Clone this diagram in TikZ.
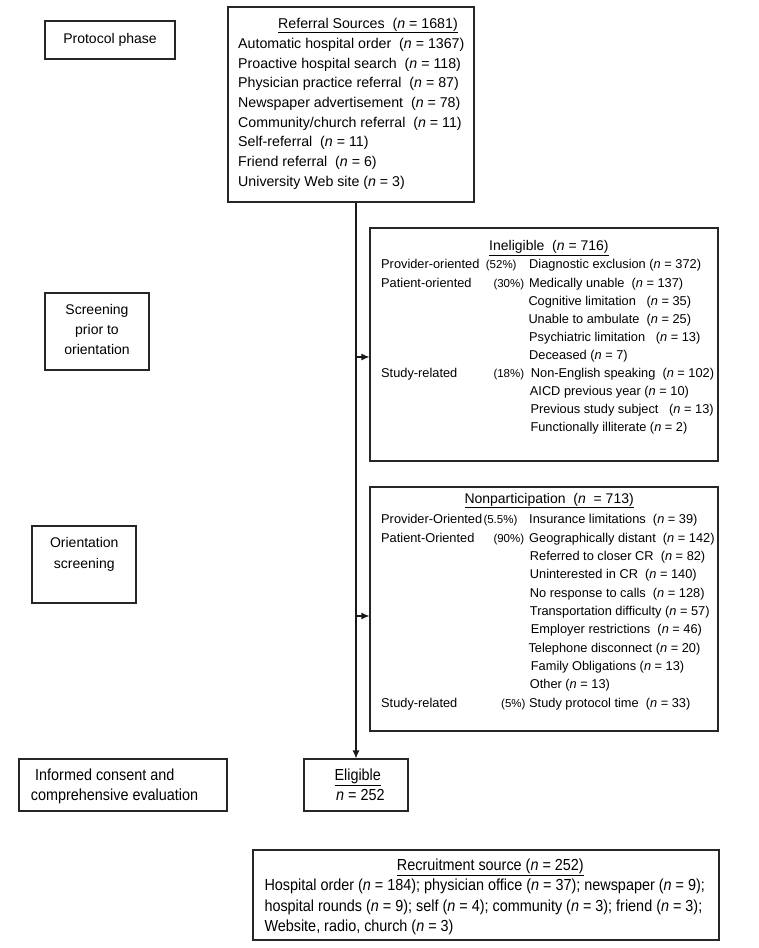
\documentclass[tikz,border=0pt]{standalone}
\usepackage{fontspec}
\setmainfont{Liberation Sans}
\newfontfamily\cond[FakeStretch=0.9]{Liberation Sans}
\usetikzlibrary{arrows.meta}
\newcommand{\nn}{\textit{n}}
\begin{document}
\begin{tikzpicture}[x=1pt,y=-1pt,
  box/.style={draw=black!85, line width=1.1pt, inner sep=0pt},
  reft/.style={font=\fontsize{14.2}{17}\selectfont, anchor=base west, inner sep=0pt},
  sm/.style={font=\fontsize{12.8}{15}\selectfont, anchor=base west, inner sep=0pt},
  ttl/.style={font=\fontsize{14}{17}\selectfont, anchor=base west, inner sep=0pt},
  pc/.style={font=\fontsize{11.5}{14}\selectfont, anchor=base west, inner sep=0pt},
  cd/.style={font=\cond\fontsize{16}{19}\selectfont, anchor=base west, inner sep=0pt},
  ph/.style={font=\fontsize{14}{17}\selectfont, anchor=base, inner sep=0pt},
  arr/.style={-{Latex[length=8pt,width=7pt]}, draw=black!90, line width=1.1pt}]
\useasboundingbox (0,0) rectangle (758,948);

% boxes
\node[box, minimum width=130pt, minimum height=38pt] (proto) at (110,40) {};
\node[box, minimum width=246pt, minimum height=195pt] (refbox) at (351,104.5) {};
\node[box, minimum width=348pt, minimum height=233pt] (inel) at (544,344.5) {};
\node[box, minimum width=104pt, minimum height=77pt] (scr) at (97,331.5) {};
\node[box, minimum width=348pt, minimum height=244pt] (nonp) at (544,609) {};
\node[box, minimum width=104pt, minimum height=77pt] (ori) at (84,564.5) {};
\node[box, minimum width=208pt, minimum height=52pt] (inf) at (123,785) {};
\node[box, minimum width=104pt, minimum height=52pt] (elig) at (356,785) {};
\node[box, minimum width=466pt, minimum height=90pt] (recr) at (486,895) {};

% connectors
\draw[arr] (refbox.south -| elig.north) -- (elig.north);
\coordinate (b1) at (356,357);
\coordinate (b2) at (356,616);
\draw[arr] (b1) -- (b1 -| inel.west);
\draw[arr] (b2) -- (b2 -| nonp.west);

% phase labels
\node[ph] (protot) at (110,43) {Protocol phase};
\node[ph] (scr1) at (97,314.3) {Screening};
\node[ph] (scr2) at (97,334.5) {prior to};
\node[ph] (scr3) at (97,354.5) {orientation};
\node[ph] (ori1) at (84.3,547.3) {Orientation};
\node[ph] (ori2) at (84.3,568.3) {screening};
\node[cd] (inf1) at (35,780.8) {Informed consent and};
\node[cd] (inf2) at (30.7,800.8) {comprehensive evaluation};

% referral sources
\node[reft] (rt) at (278,28) {\underline{Referral Sources\ \ (\nn{} = 1681)}};
\node[reft] (r1) at (238,48.4) {Automatic hospital order\ \ (\nn{} = 1367)};
\node[reft] (r2) at (238,68.1) {Proactive hospital search\ \ (\nn{} = 118)};
\node[reft] (r3) at (238,87.8) {Physician practice referral\ \ (\nn{} = 87)};
\node[reft] (r4) at (238,107.5) {Newspaper advertisement\ \ (\nn{} = 78)};
\node[reft] (r5) at (238,127.2) {Community/church referral\ \ (\nn{} = 11)};
\node[reft] (r6) at (238,146.9) {Self-referral\ \ (\nn{} = 11)};
\node[reft] (r7) at (238,166.6) {Friend referral\ \ (\nn{} = 6)};
\node[reft] (r8) at (238,186.3) {University Web site (\nn{} = 3)};

% ineligible
\node[ttl] (it) at (489,250.7) {\underline{Ineligible\ \ (\nn{} = 716)}};
\node[sm] (ia1) at (381,268.9) {Provider-oriented};
\node[pc] (ib1) at (485.7,268.9) {(52\%)};
\node[sm] (ic1) at (529,268.9) {Diagnostic exclusion (\nn{} = 372)};
\node[sm] (ia2) at (381,287.0) {Patient-oriented};
\node[pc] (ib2) at (493.3,287.0) {(30\%)};
\node[sm] (ic2) at (529,287.0) {Medically unable\ \ (\nn{} = 137)};
\node[sm] (ic3) at (528.3,305.1) {Cognitive limitation\ \ \ (\nn{} = 35)};
\node[sm] (ic4) at (528.3,323.2) {Unable to ambulate\ \ (\nn{} = 25)};
\node[sm] (ic5) at (529,341.3) {Psychiatric limitation\ \ \ (\nn{} = 13)};
\node[sm] (ic6) at (529,359.4) {Deceased (\nn{} = 7)};
\node[sm] (ia7) at (381,377.5) {Study-related};
\node[pc] (ib7) at (493.3,377.5) {(18\%)};
\node[sm] (ic7) at (530.7,377.5) {Non-English speaking\ \ (\nn{} = 102)};
\node[sm] (ic8) at (529.7,395.6) {AICD previous year (\nn{} = 10)};
\node[sm] (ic9) at (530.3,413.7) {Previous study subject\ \ \ (\nn{} = 13)};
\node[sm] (ic10) at (530.3,431.8) {Functionally illiterate (\nn{} = 2)};

% nonparticipation
\node[ttl] (nt) at (464.3,503.2) {\underline{Nonparticipation\ \ (\nn{}\ \ = 713)}};
\node[sm] (na1) at (381,523.9) {Provider-Oriented};
\node[pc] (nb1) at (483.3,523.9) {(5.5\%)};
\node[sm] (nc1) at (529,523.9) {Insurance limitations\ \ (\nn{} = 39)};
\node[sm] (na2) at (381,542.2) {Patient-Oriented};
\node[pc] (nb2) at (493.3,542.2) {(90\%)};
\node[sm] (nc2) at (529,542.2) {Geographically distant\ \ (\nn{} = 142)};
\node[sm] (nc3) at (529.7,560.6) {Referred to closer CR\ \ (\nn{} = 82)};
\node[sm] (nc4) at (529.7,578.9) {Uninterested in CR\ \ (\nn{} = 140)};
\node[sm] (nc5) at (529.7,597.3) {No response to calls\ \ (\nn{} = 128)};
\node[sm] (nc6) at (529.7,615.6) {Transportation difficulty (\nn{} = 57)};
\node[sm] (nc7) at (530.7,633.9) {Employer restrictions\ \ (\nn{} = 46)};
\node[sm] (nc8) at (528.3,652.3) {Telephone disconnect (\nn{} = 20)};
\node[sm] (nc9) at (530.7,670.6) {Family Obligations (\nn{} = 13)};
\node[sm] (nc10) at (529.7,688.9) {Other (\nn{} = 13)};
\node[sm] (na11) at (381,707.3) {Study-related};
\node[pc] (nb11) at (501,707.3) {(5\%)};
\node[sm] (nc11) at (529,707.3) {Study protocol time\ \ (\nn{} = 33)};

% eligible
\node[cd] (e1) at (334.3,780.8) {\underline{Eligible}};
\node[cd] (e2) at (336,800.8) {\nn{} = 252};

% recruitment
\node[cd] (rct) at (396.7,870.8) {\underline{Recruitment source (\nn{} = 252)}};
\node[cd] (rc1) at (264.3,890.8) {Hospital order (\nn{} = 184); physician office (\nn{} = 37); newspaper (\nn{} = 9);};
\node[cd] (rc2) at (264.3,911.3) {hospital rounds (\nn{} = 9); self (\nn{} = 4); community (\nn{} = 3); friend (\nn{} = 3);};
\node[cd] (rc3) at (264.3,931.8) {Website, radio, church (\nn{} = 3)};
\end{tikzpicture}
\end{document}
